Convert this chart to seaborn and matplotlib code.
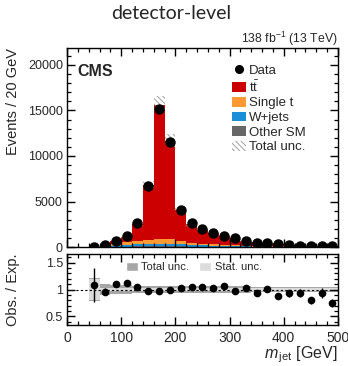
import numpy as np
import pandas as pd
import matplotlib
matplotlib.use("Agg")
import matplotlib.pyplot as plt
from matplotlib.patches import Patch
from matplotlib.lines import Line2D
from matplotlib.ticker import MultipleLocator
import seaborn as sns

# ---- data -------------------------------------------------------------
bin_edges = np.arange(40, 520, 20)
bin_centers = bin_edges[:-1] + 10

data_counts = [12, 190, 700, 1250, 2650, 6650, 15150, 11550, 4100, 2620, 1980, 1580,
               1240, 940, 660, 470, 400, 290, 190, 150, 130, 110, 90]
ttbar = [5, 140, 321, 606, 1864, 6086, 14719, 10832, 3390, 2020, 1511, 1236,
         940, 785, 508, 401, 316, 267, 159, 125, 130, 92, 95]
single_t = [2, 20, 150, 250, 350, 420, 520, 480, 330, 230, 170, 130,
            100, 80, 55, 40, 32, 26, 18, 14, 13, 10, 10]
wjets = [3, 30, 130, 200, 240, 270, 290, 270, 230, 190, 160, 130,
         100, 80, 60, 45, 36, 30, 20, 16, 15, 11, 11]
other_sm = [1, 8, 30, 50, 70, 80, 90, 85, 70, 55, 45, 38,
            30, 24, 18, 14, 12, 10, 7, 6, 5, 4, 4]
rel_total_unc = [0.22, 0.095, 0.085, 0.075, 0.065, 0.06, 0.06, 0.06, 0.06, 0.06, 0.06, 0.06,
                 0.06, 0.06, 0.06, 0.055, 0.055, 0.055, 0.055, 0.055, 0.055, 0.055, 0.055]
rel_stat_unc = [0.19, 0.035, 0.03, 0.025, 0.02, 0.02, 0.02, 0.02, 0.02, 0.02, 0.02, 0.02,
                0.02, 0.02, 0.02, 0.02, 0.02, 0.022, 0.024, 0.026, 0.026, 0.028, 0.03]

processes = ["tt", "Single t", "W+jets", "Other SM"]
colors = {"tt": "#cc0000", "Single t": "#ff9933", "W+jets": "#1a8ed6", "Other SM": "#666666"}

# ---- styling ----------------------------------------------------------
sns.set_theme(style="ticks")
plt.rcParams.update({
    "font.family": ["Liberation Sans", "DejaVu Sans"],
    "mathtext.fontset": "custom",
    "mathtext.rm": "Liberation Sans",
    "mathtext.it": "Liberation Sans:italic",
    "mathtext.bf": "Liberation Sans:bold",
    "axes.linewidth": 1.0,
    "axes.edgecolor": "black",
    "hatch.linewidth": 0.7,
})

fig = plt.figure(figsize=(3.48, 3.66), dpi=100)
ax = fig.add_axes([0.1925, 0.325, 0.7785, 0.545])
rax = fig.add_axes([0.1925, 0.112, 0.7785, 0.194], sharex=ax)

# ---- stacked prediction ----------------------------------------------
comp = {"tt": ttbar, "Single t": single_t, "W+jets": wjets, "Other SM": other_sm}
df = pd.concat([
    pd.DataFrame({"mjet": bin_centers, "events": comp[p], "process": p})
    for p in processes
], ignore_index=True)

sns.histplot(data=df, x="mjet", weights="events", hue="process", hue_order=processes,
             multiple="stack", binwidth=20, binrange=(40, 500), palette=colors,
             element="bars", alpha=1.0, linewidth=0, legend=False, ax=ax)

mc_total = np.sum([np.array(comp[p], float) for p in processes], axis=0)
unc = mc_total * np.array(rel_total_unc)
hatch_style = "\\\\\\\\\\\\"
ax.bar(bin_centers, 2 * unc, bottom=mc_total - unc, width=20, fill=False,
       hatch=hatch_style, edgecolor="#a0a0a0", linewidth=0, zorder=3)

data_arr = np.array(data_counts, float)
ax.errorbar(bin_centers, data_arr, yerr=np.sqrt(data_arr), fmt="o", color="black",
            markersize=6.5, elinewidth=1, capsize=0, zorder=5)

ax.set_xlim(0, 500)
ax.set_ylim(0, 21900)
ax.yaxis.set_major_locator(MultipleLocator(5000))
ax.yaxis.set_minor_locator(MultipleLocator(1000))
ax.xaxis.set_major_locator(MultipleLocator(100))
ax.xaxis.set_minor_locator(MultipleLocator(20))
ax.set_xlabel("")
ax.set_ylabel("Events / 20 GeV", fontsize=10.5, ha="right", y=1.0)
ax.yaxis.set_label_coords(-0.175, 1.0)

ax.text(0.04, 0.88, "CMS", transform=ax.transAxes, fontsize=11.5,
        fontweight="bold", ha="left", va="center")
ax.text(1.0, 0.997, r"138 fb$^{-1}$ (13 TeV)", transform=ax.transAxes,
        fontsize=8.8, ha="right", va="bottom")

handles = [
    Line2D([], [], marker="o", color="black", markersize=5.5, linestyle="none"),
    Patch(facecolor=colors["tt"], edgecolor="none"),
    Patch(facecolor=colors["Single t"], edgecolor="none"),
    Patch(facecolor=colors["W+jets"], edgecolor="none"),
    Patch(facecolor=colors["Other SM"], edgecolor="none"),
    Patch(facecolor="white", edgecolor="#a0a0a0", hatch=hatch_style, linewidth=0),
]
labels = ["Data", r"t$\bar{\mathrm{t}}$", "Single t", "W+jets", "Other SM", "Total unc."]
ax.legend(handles, labels, loc="upper left", bbox_to_anchor=(0.61, 0.915),
          frameon=False, fontsize=9.5, handlelength=1.05, handleheight=0.75,
          handletextpad=0.2, labelspacing=0.17, borderaxespad=0, borderpad=0)

# ---- ratio panel ------------------------------------------------------
ratio = data_arr / mc_total
ratio_err = np.sqrt(data_arr) / mc_total
tot = np.array(rel_total_unc)
stat = np.array(rel_stat_unc)
rax.bar(bin_centers, 2 * tot, bottom=1 - tot, width=20, color="#a6a6a6", linewidth=0, zorder=1)
rax.bar(bin_centers, 2 * stat, bottom=1 - stat, width=20, color="#dcdcdc", linewidth=0, zorder=2)
rax.axhline(1.0, color="black", linestyle=(0, (2, 2)), linewidth=0.8, zorder=3)
rax.errorbar(bin_centers, ratio, yerr=ratio_err, fmt="o", color="black",
             markersize=4.5, elinewidth=1, capsize=0, zorder=5)

rax.set_ylim(0.34, 1.66)
rax.yaxis.set_minor_locator(MultipleLocator(0.1))
rax.set_yticks([0.5, 1.0, 1.5])
rax.set_yticklabels(["0.5", "1", "1.5"])
rax.set_ylabel("Obs. / Exp.", fontsize=10.5)
rax.yaxis.set_label_coords(-0.175, 0.5)
rax.set_xlabel(r"$m_{\,\mathrm{jet}}$ [GeV]", fontsize=11.5, ha="right", x=1.0, labelpad=0)

# inward ticks on all four sides of both panels
for a in (ax, rax):
    a.tick_params(which="both", direction="in", top=True, right=True,
                  bottom=True, left=True, color="black")
    a.tick_params(which="major", length=5.5, width=1.0)
    a.tick_params(which="minor", length=2.8, width=0.9)
    a.set_axisbelow(False)
ax.tick_params(axis="x", labelbottom=False)
ax.tick_params(axis="y", labelsize=9, pad=3)
rax.tick_params(axis="y", labelsize=9, pad=3)
rax.tick_params(axis="x", labelsize=10, pad=4)

rax.legend([Patch(facecolor="#a6a6a6"), Patch(facecolor="#dcdcdc")],
           ["Total unc.", "Stat. unc."], loc="upper left", bbox_to_anchor=(0.218, 0.89),
           ncol=2, frameon=False, fontsize=8, handlelength=1.08, handleheight=0.9,
           handletextpad=0.3, columnspacing=0.9, borderaxespad=0, borderpad=0)

fig.text(0.493, 0.962, "detector-level", fontsize=14, ha="center", va="center",
         family=["Lato", "DejaVu Sans"])

fig.savefig("out.png", dpi=100)
